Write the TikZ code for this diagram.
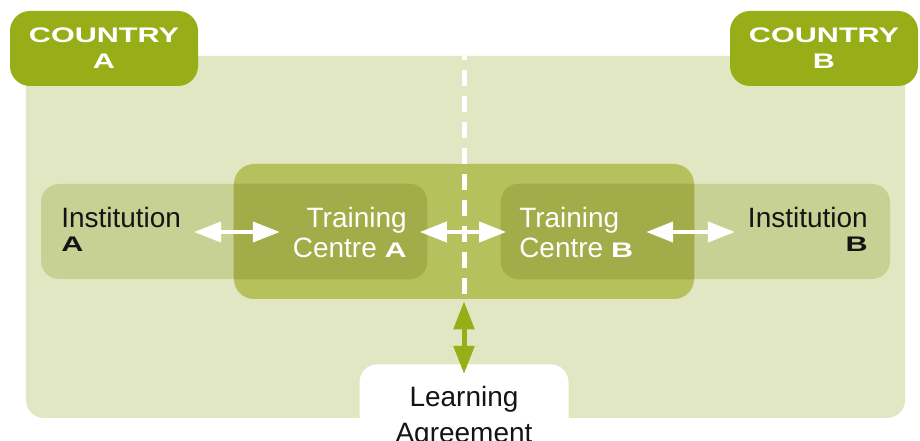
\documentclass[tikz,border=0pt]{standalone}
\usepackage{fontspec}
\setmainfont{Liberation Sans}
\usepackage{xcolor}
\usepackage{graphicx}
\usepackage{tikz}
\usetikzlibrary{arrows.meta}

\definecolor{countrygreen}{HTML}{97AE19}
\definecolor{areagreen}{HTML}{E1E6C3}
\definecolor{centregreen}{HTML}{B4C15C}
\definecolor{instgreen}{HTML}{C8D194}
\definecolor{overlapgreen}{HTML}{A2AC48}
\definecolor{inktext}{HTML}{141414}

\newcommand{\wide}[1]{\scalebox{1.45}[1]{\fontsize{15}{18}\selectfont\bfseries #1}}

\tikzset{
  country/.style={fill=countrygreen, rounded corners=0.5cm, minimum width=4.7cm, minimum height=1.875cm, align=center, text=white, font=\fontsize{15}{18.5}\selectfont},
  centrebox/.style={fill=centregreen, rounded corners=0.5cm, minimum width=11.5cm, minimum height=3.375cm},
  instbox/.style={fill=instgreen, rounded corners=0.45cm, minimum height=2.375cm},
  boxtext/.style={inner sep=0pt, font=\fontsize{19.9}{21.34}\selectfont},
  agreebox/.style={fill=white, rounded corners=0.45cm, minimum width=5.225cm, inner ysep=0.55cm, align=center, text=inktext, font=\fontsize{19.9}{21.34}\selectfont},
  dblarrow/.style={white, line width=0.1cm, <->, >={Triangle[length=0.675cm,width=0.5cm]}, shorten <=0.32cm, shorten >=0.32cm},
  linkarrow/.style={countrygreen, line width=0.125cm, <->, >={Triangle[length=0.7cm,width=0.5cm]}, shorten <=0.05cm, shorten >=-0.25cm},
  divider/.style={white, line width=0.125cm, dash pattern=on 0.4cm off 0.25cm, dash phase=0.3cm}
}

\begin{document}
\begin{tikzpicture}
    \useasboundingbox (0,0) rectangle (23,11.025);

    % Countries area
    \fill[areagreen, rounded corners=0.45cm] (0.65,0.575) rectangle (22.625,9.625);

    % Training centres and institutions
    \node[centrebox] (centre) at (11.6,5.2375) {};
    \node[instbox, minimum width=9.65cm] (instA) at (5.85,5.2375) {};
    \node[instbox, minimum width=9.725cm] (instB) at (17.3875,5.2375) {};
    \begin{scope}
        \clip[rounded corners=0.5cm] (centre.south west) rectangle (centre.north east);
        \fill[overlapgreen, rounded corners=0.45cm] (instA.south west) rectangle (instA.north east);
        \fill[overlapgreen, rounded corners=0.45cm] (instB.south west) rectangle (instB.north east);
    \end{scope}

    % Country labels
    \node[country] (ctryA) at (2.6,9.8125) {\wide{COUNTRY}\\\wide{A}};
    \node[country] (ctryB) at (20.6,9.8125) {\wide{COUNTRY}\\\wide{B}};

    % Border
    \coordinate (border) at (11.6,9.625);
    \draw[divider] (border) -- (centre.south);

    % Learning agreement
    \node[agreebox, anchor=north] (agree) at (11.6,1.925) {Learning\\[0.15cm]Agreement};

    % Texts
    \node[boxtext, anchor=base west, align=left, text=inktext] (instAtxt) at (1.525,4.725) {Institution\\[-0.15cm]\wide{A}};
    \node[boxtext, anchor=base east, align=right, text=white] (trainAtxt) at (10.175,4.575) {Training\\Centre \wide{A}};
    \node[boxtext, anchor=base west, align=left, text=white] (trainBtxt) at (12.975,4.575) {Training\\Centre \wide{B}};
    \node[boxtext, anchor=base east, align=right, text=inktext] (instBtxt) at (21.7,4.725) {Institution\\[-0.15cm]\wide{B}};

    % Arrows
    \coordinate (row) at (0,5.225);
    \draw[dblarrow] (instAtxt.east |- row) -- (trainAtxt.west |- row);
    \draw[dblarrow] (trainAtxt.east |- row) -- (trainBtxt.west |- row);
    \draw[dblarrow] (trainBtxt.east |- row) -- (instBtxt.west |- row);
    \draw[linkarrow] (centre.south) -- (agree.north);
\end{tikzpicture}
\end{document}
